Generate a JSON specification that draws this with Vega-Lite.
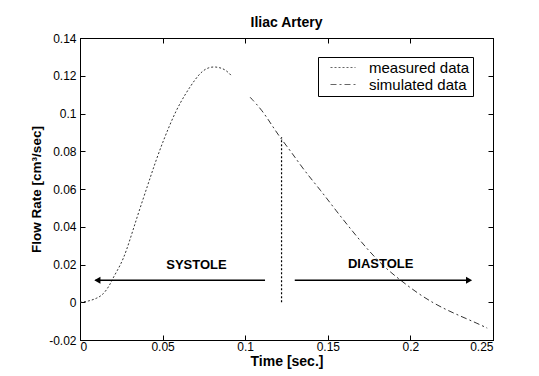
{
  "$schema": "https://vega.github.io/schema/vega-lite/v6.json",
  "width": 413,
  "height": 302,
  "autosize": {"type": "none"},
  "padding": {"left": 80, "top": 38, "right": 46, "bottom": 36},
  "background": "white",
  "config": {
    "font": "Liberation Sans",
    "view": {"stroke": "black", "strokeWidth": 1},
    "axis": {"labelFont": "Liberation Sans", "labelColor": "black", "labelFontSize": 12, "titleFont": "Liberation Sans", "titleColor": "black", "titleFontSize": 14, "titleFontWeight": "bold", "domainColor": "black", "tickColor": "black", "grid": false}
  },
  "title": {"text": "Iliac Artery", "fontSize": 14, "fontWeight": "bold", "font": "Liberation Sans", "color": "black", "offset": 2},
  "resolve": {"axis": {"x": "independent", "y": "independent"}},
  "layer": [
    {
      "data": {"values": [
        {"t": 0, "q": 0, "s": "measured data"},
        {"t": 0.005, "q": 0.0005, "s": "measured data"},
        {"t": 0.010, "q": 0.002, "s": "measured data"},
        {"t": 0.014, "q": 0.004, "s": "measured data"},
        {"t": 0.018, "q": 0.009, "s": "measured data"},
        {"t": 0.020, "q": 0.013, "s": "measured data"},
        {"t": 0.0245, "q": 0.0196, "s": "measured data"},
        {"t": 0.028, "q": 0.027, "s": "measured data"},
        {"t": 0.032, "q": 0.038, "s": "measured data"},
        {"t": 0.036, "q": 0.049, "s": "measured data"},
        {"t": 0.041, "q": 0.062, "s": "measured data"},
        {"t": 0.044, "q": 0.070, "s": "measured data"},
        {"t": 0.048, "q": 0.080, "s": "measured data"},
        {"t": 0.052, "q": 0.089, "s": "measured data"},
        {"t": 0.058, "q": 0.1015, "s": "measured data"},
        {"t": 0.064, "q": 0.1107, "s": "measured data"},
        {"t": 0.070, "q": 0.1185, "s": "measured data"},
        {"t": 0.074, "q": 0.1225, "s": "measured data"},
        {"t": 0.078, "q": 0.1245, "s": "measured data"},
        {"t": 0.082, "q": 0.1248, "s": "measured data"},
        {"t": 0.086, "q": 0.1240, "s": "measured data"},
        {"t": 0.089, "q": 0.1225, "s": "measured data"},
        {"t": 0.092, "q": 0.1197, "s": "measured data"},
        {"t": 0.103, "q": 0.1086, "s": "simulated data"},
        {"t": 0.110, "q": 0.102, "s": "simulated data"},
        {"t": 0.116, "q": 0.094, "s": "simulated data"},
        {"t": 0.121, "q": 0.0874, "s": "simulated data"},
        {"t": 0.128, "q": 0.0795, "s": "simulated data"},
        {"t": 0.136, "q": 0.0695, "s": "simulated data"},
        {"t": 0.1455, "q": 0.0595, "s": "simulated data"},
        {"t": 0.155, "q": 0.0485, "s": "simulated data"},
        {"t": 0.1655, "q": 0.037, "s": "simulated data"},
        {"t": 0.175, "q": 0.027, "s": "simulated data"},
        {"t": 0.185, "q": 0.018, "s": "simulated data"},
        {"t": 0.194, "q": 0.0117, "s": "simulated data"},
        {"t": 0.204, "q": 0.005, "s": "simulated data"},
        {"t": 0.214, "q": -0.0005, "s": "simulated data"},
        {"t": 0.223, "q": -0.0045, "s": "simulated data"},
        {"t": 0.232, "q": -0.008, "s": "simulated data"},
        {"t": 0.240, "q": -0.011, "s": "simulated data"},
        {"t": 0.2465, "q": -0.0137, "s": "simulated data"}
      ]},
      "mark": {"type": "line", "color": "#333", "strokeWidth": 1, "interpolate": "basis"},
      "encoding": {
        "x": {"field": "t", "type": "quantitative", "scale": {"domain": [0, 0.25], "nice": false, "zero": false},
          "axis": {"title": "Time [sec.]", "values": [0, 0.05, 0.1, 0.15, 0.2, 0.25], "labelExpr": "replace(format(datum.value, '~g'), '−', '-')", "tickSize": -5, "labelPadding": 6, "titlePadding": 2}},
        "y": {"field": "q", "type": "quantitative", "scale": {"domain": [-0.02, 0.14], "nice": false, "zero": false},
          "axis": {"title": "Flow Rate [cm³/sec]", "titleFontSize": 13.5, "values": [-0.02, 0, 0.02, 0.04, 0.06, 0.08, 0.1, 0.12, 0.14], "labelExpr": "replace(format(datum.value, '~g'), '−', '-')", "tickSize": -5, "labelPadding": 9, "titlePadding": 5}},
        "strokeDash": {"field": "s", "type": "nominal",
          "scale": {"domain": ["measured data", "simulated data"], "range": [[2, 2], [6, 3, 2, 3]]},
          "legend": {"title": null, "orient": "none", "legendX": 238, "legendY": 19, "strokeColor": "black", "fillColor": "white", "padding": 3, "labelFontSize": 15, "labelFont": "Liberation Sans", "labelColor": "black", "symbolType": "M0.4,0H5.4", "symbolSize": 100, "symbolStrokeColor": "#666", "symbolStrokeWidth": 1, "rowPadding": 1, "labelOffset": 33}}
      }
    },
    {
      "data": {"values": [{"t": 0.122, "q": 0, "q2": 0.0874}]},
      "mark": {"type": "rule", "color": "black", "strokeDash": [2, 2], "strokeWidth": 1.2},
      "encoding": {
        "x": {"field": "t", "type": "quantitative", "axis": null},
        "y": {"field": "q", "type": "quantitative", "axis": null},
        "y2": {"field": "q2"}
      }
    },
    {
      "data": {"values": [
        {"a": 0.0094, "b": 0.112, "q": 0.0117},
        {"a": 0.130, "b": 0.236, "q": 0.0117}
      ]},
      "mark": {"type": "rule", "color": "black", "strokeWidth": 1.5},
      "encoding": {
        "x": {"field": "a", "type": "quantitative", "axis": null},
        "x2": {"field": "b"},
        "y": {"field": "q", "type": "quantitative", "axis": null}
      }
    },
    {
      "data": {"values": [
        {"t": 0.0105, "q": 0.0117, "dir": "left"},
        {"t": 0.2355, "q": 0.0117, "dir": "right"}
      ]},
      "mark": {"type": "point", "filled": true, "color": "black", "opacity": 1, "size": 50},
      "encoding": {
        "x": {"field": "t", "type": "quantitative", "axis": null},
        "y": {"field": "q", "type": "quantitative", "axis": null},
        "shape": {"field": "dir", "type": "nominal", "scale": {"domain": ["left", "right"], "range": ["triangle-left", "triangle-right"]}, "legend": null}
      }
    },
    {
      "data": {"values": [
        {"t": 0.0705, "q": 0.0198, "label": "SYSTOLE"},
        {"t": 0.182, "q": 0.0203, "label": "DIASTOLE"}
      ]},
      "mark": {"type": "text", "font": "Liberation Sans", "fontWeight": "bold", "fontSize": 13, "color": "black", "baseline": "middle", "align": "center"},
      "encoding": {
        "x": {"field": "t", "type": "quantitative", "axis": null},
        "y": {"field": "q", "type": "quantitative", "axis": null},
        "text": {"field": "label"}
      }
    },
    {
      "data": {"values": [{"t": 0, "q": 0}]},
      "mark": {"type": "point", "opacity": 0},
      "encoding": {
        "x": {"field": "t", "type": "quantitative", "axis": {"orient": "top", "labels": false, "title": null, "domain": true, "values": [0, 0.05, 0.1, 0.15, 0.2, 0.25], "tickSize": -5}},
        "y": {"field": "q", "type": "quantitative", "axis": {"orient": "right", "labels": false, "title": null, "domain": true, "values": [-0.02, 0, 0.02, 0.04, 0.06, 0.08, 0.1, 0.12, 0.14], "tickSize": -5}}
      }
    }
  ]
}
